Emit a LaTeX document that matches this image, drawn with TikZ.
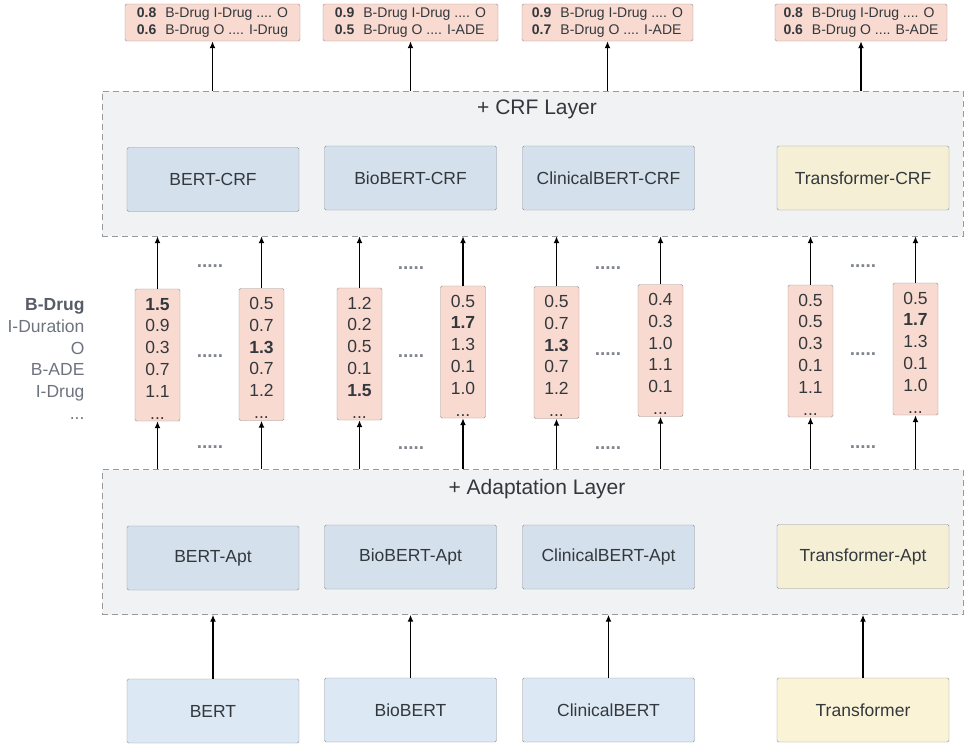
\documentclass[tikz,border=0pt]{standalone}
\usepackage{fontspec}
\setmainfont{Liberation Sans}
\usetikzlibrary{arrows.meta,positioning}
\definecolor{txt}{HTML}{33383D}
\definecolor{tagtxt}{HTML}{6E7380}
\definecolor{scorefill}{HTML}{F9DAD0}
\definecolor{scoreline}{HTML}{9C8F8B}
\definecolor{bluefill}{HTML}{D4E1ED}
\definecolor{basefill}{HTML}{DCE8F3}
\definecolor{yellowfill}{HTML}{F5EFD5}
\definecolor{baseyellow}{HTML}{FAF3D6}
\definecolor{boxline}{HTML}{8E9298}
\definecolor{layerfill}{HTML}{F1F2F4}
\definecolor{layerline}{HTML}{9A9A9A}
\definecolor{dotgray}{HTML}{80858E}
\tikzset{
  model/.style={draw=boxline, fill=bluefill, rounded corners=1.5pt, minimum width=172pt, minimum height=64pt, text=txt, font=\fontsize{17.5}{20}\selectfont},
  layer/.style={draw=layerline, fill=layerfill, dashed, dash pattern=on 6pt off 4pt, minimum width=861pt, minimum height=145pt},
  score/.style={draw=scoreline, fill=scorefill, rounded corners=1.5pt, minimum width=45pt, minimum height=132pt, inner sep=0pt, align=center, text=txt, font=\fontsize{17.5}{21.8}\selectfont},
  outbox/.style={draw=scoreline, fill=scorefill, rounded corners=1.5pt, minimum height=37pt, inner sep=0pt, align=left, text=txt, font=\fontsize{14}{17.5}\selectfont},
  gap/.style={text=dotgray, font=\fontsize{19}{19}\bfseries},
  up/.style={-{Latex[length=7pt,width=6pt]}, line width=1.8pt}
}
\newcommand{\firstrow}{\rule{0pt}{19pt}}
\begin{document}
\begin{tikzpicture}[x=1pt,y=-1pt]
  \useasboundingbox (0,0) rectangle (965,744);
  \node[layer] (crfl) at (532.5,163.5) {};
  \node[layer] (adl) at (532.5,542) {};
  \node[text=txt, font=\fontsize{21}{24}\selectfont] (crflab) at (537,109) {+ CRF Layer};
  \node[text=txt, font=\fontsize{21}{24}\selectfont] (adlab) at (537,489.5) {+ Adaptation Layer};

  \node[model, fill=basefill] (bert) at (213,711) {BERT};
  \node[model, fill=basefill] (bio) at (410.5,710) {BioBERT};
  \node[model, fill=basefill] (clin) at (608.5,710) {ClinicalBERT};
  \node[model, fill=baseyellow] (trans) at (863,710) {Transformer};

  \node[model] (bertapt) at (213,558) {BERT-Apt};
  \node[model] (bioapt) at (410.5,557) {BioBERT-Apt};
  \node[model] (clinapt) at (608.5,557) {ClinicalBERT-Apt};
  \node[model, fill=yellowfill] (transapt) at (863,556.5) {Transformer-Apt};

  \node[model] (bertcrf) at (213,179.5) {BERT-CRF};
  \node[model] (biocrf) at (410.5,178) {BioBERT-CRF};
  \node[model] (clincrf) at (608.5,178) {ClinicalBERT-CRF};
  \node[model, fill=yellowfill] (transcrf) at (863,178) {Transformer-CRF};

  \node[anchor=east, align=right, text=tagtxt, font=\fontsize{17.5}{21.8}\selectfont] (tags) at (88,359)
    {\textbf{\color{tagtxt!80!black}B-Drug}\\I-Duration\\O\\B-ADE\\I-Drug\\...};

  \node[score] (s1) at (157.5,355) {\firstrow\textbf{1.5}\\0.9\\0.3\\0.7\\1.1\\...};
  \node[score] (s2) at (261.5,354.5) {\firstrow 0.5\\0.7\\\textbf{1.3}\\0.7\\1.2\\...};
  \node[score] (s3) at (359.5,354) {\firstrow 1.2\\0.2\\0.5\\0.1\\\textbf{1.5}\\...};
  \node[score] (s4) at (463,352) {\firstrow 0.5\\\textbf{1.7}\\1.3\\0.1\\1.0\\...};
  \node[score] (s5) at (556.5,352.5) {\firstrow 0.5\\0.7\\\textbf{1.3}\\0.7\\1.2\\...};
  \node[score] (s6) at (660.5,350.5) {\firstrow 0.4\\0.3\\1.0\\1.1\\0.1\\...};
  \node[score] (s7) at (810.5,351) {\firstrow 0.5\\0.5\\0.3\\0.1\\1.1\\...};
  \node[score] (s8) at (915.5,349) {\firstrow 0.5\\\textbf{1.7}\\1.3\\0.1\\1.0\\...};

  \node[gap] (g1) at (210,266) {.....};
  \node[gap] (g2) at (411,268) {.....};
  \node[gap] (g3) at (608,268) {.....};
  \node[gap] (g4) at (863,266) {.....};
  \node[gap] (g5) at (210,356) {.....};
  \node[gap] (g6) at (411,356) {.....};
  \node[gap] (g7) at (608,354) {.....};
  \node[gap] (g8) at (863,354) {.....};
  \node[gap] (g9) at (210,447) {.....};
  \node[gap] (g10) at (411,448) {.....};
  \node[gap] (g11) at (608,448) {.....};
  \node[gap] (g12) at (863,447) {.....};

  \node[outbox, minimum width=175pt] (o1) at (212.5,22.5) {\textbf{0.8}\hspace{9pt}B-Drug I-Drug .... O\\\textbf{0.6}\hspace{9pt}B-Drug O .... I-Drug};
  \node[outbox, minimum width=175pt] (o2) at (410.5,22.5) {\textbf{0.9}\hspace{9pt}B-Drug I-Drug .... O\\\textbf{0.5}\hspace{9pt}B-Drug O .... I-ADE};
  \node[outbox, minimum width=171pt] (o3) at (607.5,22.5) {\textbf{0.9}\hspace{9pt}B-Drug I-Drug .... O\\\textbf{0.7}\hspace{9pt}B-Drug O .... I-ADE};
  \node[outbox, minimum width=172pt] (o4) at (861,22.5) {\textbf{0.8}\hspace{9pt}B-Drug I-Drug .... O\\\textbf{0.6}\hspace{9pt}B-Drug O .... B-ADE};

  \draw[up] (bert.north) -- (bert.north |- adl.south);
  \draw[up] (bio.north) -- (bio.north |- adl.south);
  \draw[up] (clin.north) -- (clin.north |- adl.south);
  \draw[up] (trans.north) -- (trans.north |- adl.south);

  \draw[up] (s1.south |- adl.north) -- (s1.south);
  \draw[up] (s2.south |- adl.north) -- (s2.south);
  \draw[up] (s3.south |- adl.north) -- (s3.south);
  \draw[up] (s4.south |- adl.north) -- (s4.south);
  \draw[up] (s5.south |- adl.north) -- (s5.south);
  \draw[up] (s6.south |- adl.north) -- (s6.south);
  \draw[up] (s7.south |- adl.north) -- (s7.south);
  \draw[up] (s8.south |- adl.north) -- (s8.south);

  \draw[up] (s1.north) -- (s1.north |- crfl.south);
  \draw[up] (s2.north) -- (s2.north |- crfl.south);
  \draw[up] (s3.north) -- (s3.north |- crfl.south);
  \draw[up] (s4.north) -- (s4.north |- crfl.south);
  \draw[up] (s5.north) -- (s5.north |- crfl.south);
  \draw[up] (s6.north) -- (s6.north |- crfl.south);
  \draw[up] (s7.north) -- (s7.north |- crfl.south);
  \draw[up] (s8.north) -- (s8.north |- crfl.south);

  \draw[up] (o1.south |- crfl.north) -- (o1.south);
  \draw[up] (o2.south |- crfl.north) -- (o2.south);
  \draw[up] (o3.south |- crfl.north) -- (o3.south);
  \draw[up] (o4.south |- crfl.north) -- (o4.south);
\end{tikzpicture}
\end{document}
